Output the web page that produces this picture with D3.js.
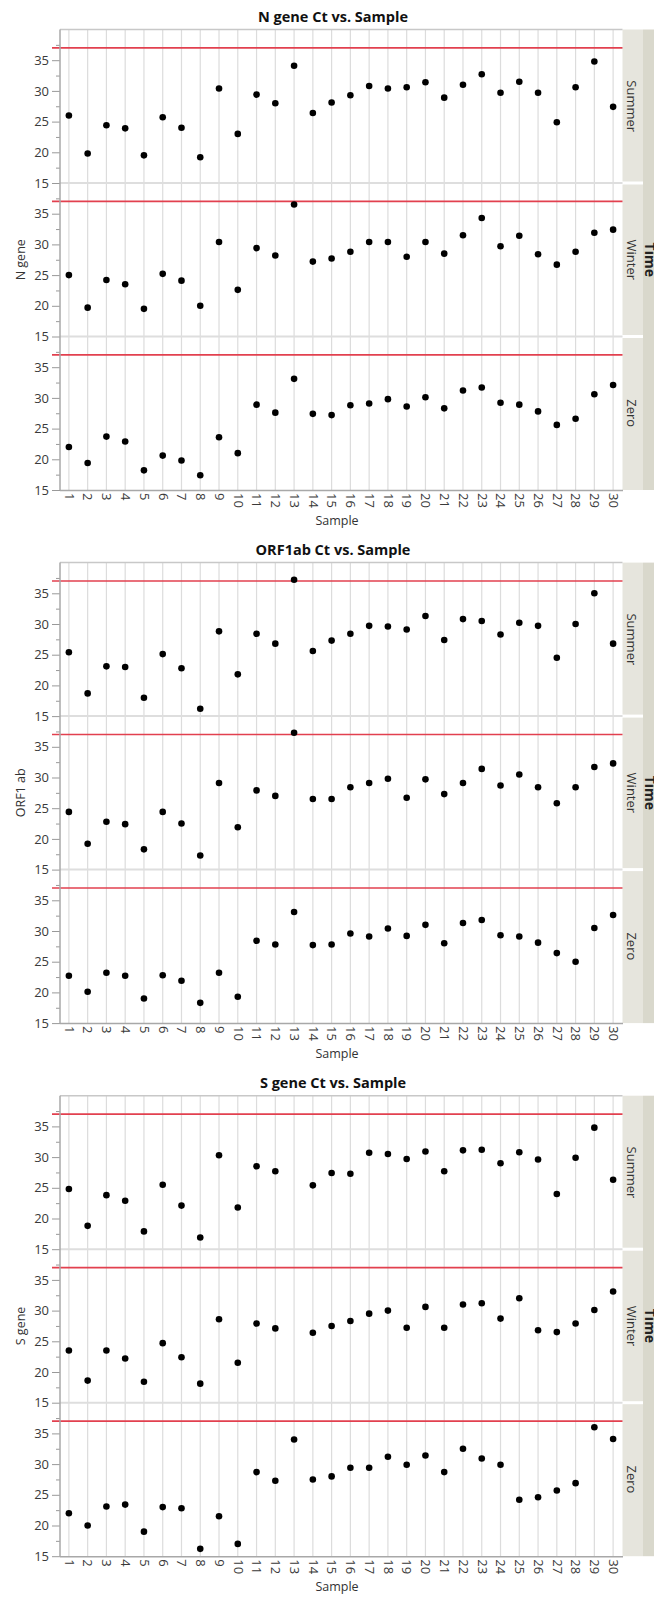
<!DOCTYPE html>
<html>
<head>
<meta charset="utf-8">
<script src="https://cdn.jsdelivr.net/npm/d3@7/dist/d3.min.js"></script>
<style>
body { margin: 0; background: #fff; }
text { font-family: "Open Sans", "Noto Sans", sans-serif; }
</style>
</head>
<body>
<script>
var samples = [1, 2, 3, 4, 5, 6, 7, 8, 9, 10, 11, 12, 13, 14, 15, 16, 17, 18, 19, 20, 21, 22, 23, 24, 25, 26, 27, 28, 29, 30]
var times = ["Summer", "Winter", "Zero"]
var yTicks = [15, 20, 25, 30, 35]
var yMinorTicks = [17.5, 22.5, 27.5, 32.5, 37.5]
var cutoff = 37

var nGeneSummer = [26.0, 19.8, 24.4, 23.9, 19.5, 25.7, 24.0, 19.2, 30.4, 23.0, 29.4, 28.0, 34.1, 26.4, 28.1, 29.3, 30.8, 30.4, 30.6, 31.4, 28.9, 31.0, 32.7, 29.7, 31.5, 29.7, 24.9, 30.6, 34.8, 27.4]
var nGeneWinter = [25.0, 19.7, 24.2, 23.5, 19.5, 25.2, 24.1, 20.0, 30.4, 22.6, 29.4, 28.2, 36.5, 27.2, 27.7, 28.8, 30.4, 30.4, 28.0, 30.4, 28.5, 31.5, 34.3, 29.7, 31.4, 28.4, 26.7, 28.8, 31.9, 32.4]
var nGeneZero = [22.0, 19.4, 23.7, 22.9, 18.2, 20.6, 19.8, 17.4, 23.6, 21.0, 28.9, 27.6, 33.1, 27.4, 27.2, 28.8, 29.1, 29.8, 28.6, 30.1, 28.3, 31.2, 31.7, 29.2, 28.9, 27.8, 25.6, 26.6, 30.6, 32.1]

var orfSummer = [25.4, 18.7, 23.1, 23.0, 18.0, 25.1, 22.8, 16.2, 28.8, 21.8, 28.4, 26.8, 37.2, 25.6, 27.3, 28.4, 29.7, 29.6, 29.1, 31.3, 27.4, 30.8, 30.5, 28.3, 30.2, 29.7, 24.5, 30.0, 35.0, 26.8]
var orfWinter = [24.4, 19.2, 22.8, 22.4, 18.3, 24.4, 22.5, 17.3, 29.1, 21.9, 27.9, 27.0, 37.3, 26.5, 26.5, 28.4, 29.1, 29.8, 26.7, 29.7, 27.3, 29.1, 31.4, 28.7, 30.5, 28.4, 25.8, 28.4, 31.7, 32.3]
var orfZero = [22.7, 20.1, 23.2, 22.7, 19.0, 22.8, 21.9, 18.3, 23.2, 19.3, 28.4, 27.8, 33.1, 27.7, 27.8, 29.6, 29.1, 30.4, 29.2, 31.0, 28.0, 31.3, 31.8, 29.3, 29.1, 28.1, 26.4, 25.0, 30.5, 32.6]

var sGeneSummer = [24.8, 18.8, 23.8, 22.9, 17.9, 25.5, 22.1, 16.9, 30.3, 21.8, 28.5, 27.7, null, 25.4, 27.4, 27.3, 30.7, 30.5, 29.7, 30.9, 27.7, 31.1, 31.2, 29.0, 30.8, 29.6, 24.0, 29.9, 34.8, 26.3]
var sGeneWinter = [23.5, 18.6, 23.5, 22.2, 18.4, 24.7, 22.4, 18.1, 28.6, 21.5, 27.9, 27.1, null, 26.4, 27.5, 28.3, 29.5, 30.0, 27.2, 30.6, 27.2, 31.0, 31.2, 28.7, 32.0, 26.8, 26.5, 27.9, 30.1, 33.1]
var sGeneZero = [22.0, 20.0, 23.1, 23.4, 19.0, 23.0, 22.8, 16.2, 21.5, 17.0, 28.7, 27.3, 34.0, 27.5, 28.0, 29.4, 29.4, 31.2, 29.9, 31.4, 28.7, 32.5, 30.9, 29.9, 24.2, 24.6, 25.7, 26.9, 36.0, 34.1]

var charts = [
  { title: "N gene Ct vs. Sample", ylabel: "N gene", series: [nGeneSummer, nGeneWinter, nGeneZero] },
  { title: "ORF1ab Ct vs. Sample", ylabel: "ORF1 ab", series: [orfSummer, orfWinter, orfZero] },
  { title: "S gene Ct vs. Sample", ylabel: "S gene", series: [sGeneSummer, sGeneWinter, sGeneZero] }
]

var width = 654, height = 1598,
    left = 60, right = 622.5,
    firstTop = 29.5, chartStep = 533.1, panelH = 153.5

var svg = d3.select("body").append("svg")
    .attr("width", width)
    .attr("height", height)

var x = d3.scalePoint().domain(samples).range([left - 0.5, right]).padding(0.5)

charts.forEach(function(c, ci) {
  var top = firstTop + ci * chartStep,
      bottom = top + times.length * panelH
  var g = svg.append("g")

  g.append("text")
    .attr("x", 333)
    .attr("y", top - 8)
    .attr("text-anchor", "middle")
    .style("font-size", "14.5px")
    .style("font-weight", "bold")
    .style("fill", "#111")
    .text(c.title)

  // outer "Time" strip
  g.append("rect")
    .attr("x", 643).attr("y", top)
    .attr("width", width - 643).attr("height", bottom - top)
    .attr("fill", "#d9d8cc")
  g.append("text")
    .attr("transform", "translate(644.5," + (top + bottom) / 2 + ") rotate(90)")
    .attr("text-anchor", "middle")
    .style("font-size", "14px")
    .style("font-weight", "bold")
    .style("fill", "#222")
    .text("Time")

  g.selectAll(".grid")
    .data(samples)
    .enter().append("line")
    .attr("class", "grid")
    .attr("x1", function(d) { return x(d) })
    .attr("x2", function(d) { return x(d) })
    .attr("y1", top)
    .attr("y2", bottom)
    .style("stroke", "#dcdcdc")
    .style("stroke-width", 1.2)

  times.forEach(function(t, pi) {
    var pTop = top + pi * panelH
    var y = d3.scaleLinear().domain([15, 40]).range([pTop + panelH, pTop])

    g.append("rect")
      .attr("x", right)
      .attr("y", pTop + (pi > 0 ? 1.5 : 0))
      .attr("width", 643 - right)
      .attr("height", panelH - (pi > 0 ? 1.5 : 0) - (pi < times.length - 1 ? 1.5 : 0))
      .attr("fill", "#e6e5dd")

    g.append("text")
      .attr("transform", "translate(626.5," + (pTop + panelH / 2) + ") rotate(90)")
      .attr("text-anchor", "middle")
      .style("font-size", "13px")
      .style("fill", "#333")
      .text(t)

    if (pi < times.length - 1) {
      g.append("line")
        .attr("x1", left).attr("x2", right)
        .attr("y1", y(15)).attr("y2", y(15))
        .style("stroke", "#dedede")
        .style("stroke-width", 2)
    }

    g.append("line")
      .attr("x1", 52).attr("x2", right)
      .attr("y1", y(cutoff)).attr("y2", y(cutoff))
      .style("stroke", "#e2404f")
      .style("stroke-width", 1.6)

    g.append("g")
      .attr("transform", "translate(" + left + ",0)")
      .call(d3.axisLeft(y).tickValues(yMinorTicks).tickSize(4).tickFormat(""))
      .call(function(a) { a.select(".domain").remove() })
      .selectAll("line").style("stroke", "#999")

    var ya = g.append("g")
      .attr("transform", "translate(" + left + ",0)")
      .call(d3.axisLeft(y).tickValues(yTicks).tickSize(8).tickPadding(3))
      .call(function(a) { a.select(".domain").remove() })
    ya.selectAll("line").style("stroke", "#999")
    ya.selectAll("text")
      .style("font-size", "13px")
      .style("font-family", "'Open Sans', sans-serif")
      .style("fill", "#3a3a3a")

    g.selectAll(".pt" + pi)
      .data(samples.filter(function(d, i) { return c.series[pi][i] != null }))
      .enter().append("circle")
      .attr("class", "pt" + pi)
      .attr("cx", function(d) { return x(d) })
      .attr("cy", function(d) { return y(c.series[pi][d - 1]) })
      .attr("r", 3.3)
      .style("fill", "#000")
  })

  // frame
  g.append("line")
    .attr("x1", left).attr("x2", right)
    .attr("y1", top).attr("y2", top)
    .style("stroke", "#c8c8c8").style("stroke-width", 1.5)
  g.append("line")
    .attr("x1", left).attr("x2", left)
    .attr("y1", top).attr("y2", bottom)
    .style("stroke", "#a8a8a8").style("stroke-width", 1.5)

  var xa = g.append("g")
    .attr("transform", "translate(0," + bottom + ")")
    .call(d3.axisBottom(x).tickSize(0).tickPadding(0))
  xa.select(".domain").style("stroke", "#a8a8a8").style("stroke-width", 1.5)
  xa.selectAll("text")
    .attr("transform", "rotate(90)")
    .attr("x", 3)
    .attr("y", 0)
    .attr("dy", "0.36em")
    .style("text-anchor", "start")
    .style("font-size", "13px")
    .style("font-family", "'Open Sans', sans-serif")
    .style("fill", "#3a3a3a")

  g.append("text")
    .attr("x", 337)
    .attr("y", bottom + 35)
    .attr("text-anchor", "middle")
    .style("font-size", "12.5px")
    .style("fill", "#333")
    .text("Sample")

  g.append("text")
    .attr("transform", "translate(21," + (top + bottom) / 2 + ") rotate(-90)")
    .attr("text-anchor", "middle")
    .attr("dy", "0.35em")
    .style("font-size", "12.5px")
    .style("fill", "#333")
    .text(c.ylabel)
})
</script>
</body>
</html>
